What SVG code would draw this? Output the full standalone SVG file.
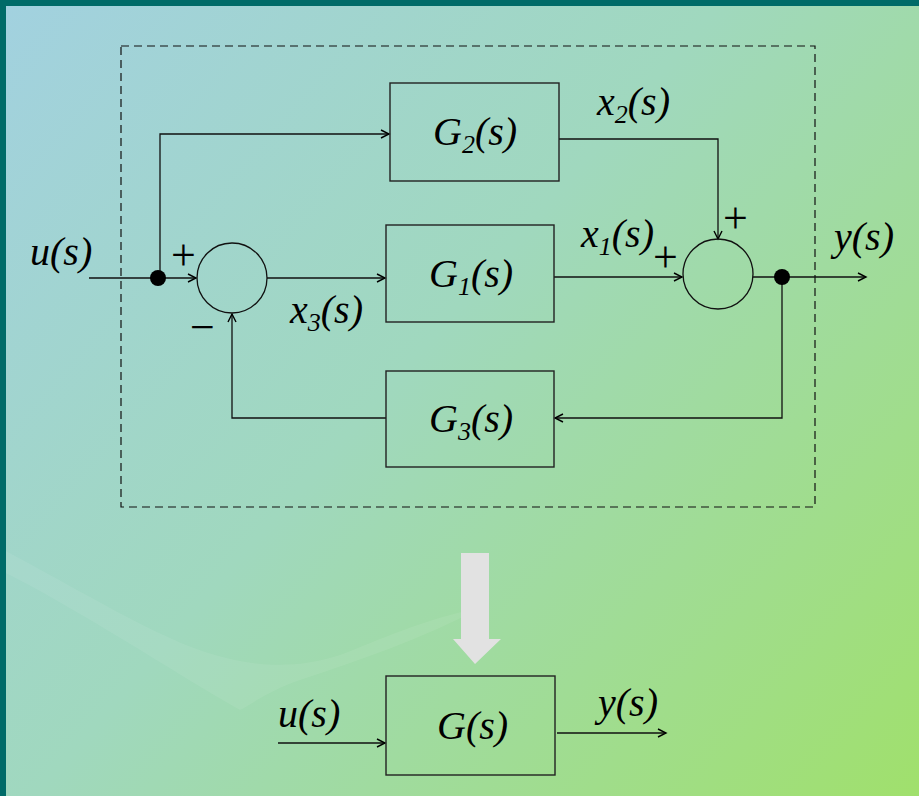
<svg xmlns="http://www.w3.org/2000/svg" width="919" height="796" viewBox="0 0 919 796">
<defs>
<linearGradient id="bg" x1="0" y1="0" x2="919" y2="796" gradientUnits="userSpaceOnUse">
<stop offset="0" stop-color="#A2D1E0"/>
<stop offset="0.45" stop-color="#A0D8BE"/>
<stop offset="1" stop-color="#A0E06C"/>
</linearGradient>
<marker id="arr" markerWidth="12" markerHeight="10" refX="9" refY="5" orient="auto" markerUnits="userSpaceOnUse">
<path d="M1,1 L9,5 L1,9" fill="none" stroke="#000" stroke-width="1.4"/>
</marker>
<style>
.ln{fill:none;stroke:#111;stroke-width:1.3}
.bx{fill:none;stroke:#222;stroke-width:1.4}
text.t{font-family:'Liberation Serif','Times New Roman',serif;font-style:italic;font-size:40px;fill:#000}
tspan.sub{font-size:26px}
text.pm{font-family:'Liberation Serif','Times New Roman',serif;font-size:44px;fill:#000}
</style>
</defs>
<rect x="0" y="0" width="919" height="796" fill="url(#bg)"/>
<path d="M0,548 C80,590 160,640 215,655 C260,668 300,668 340,655 C380,640 420,620 480,608 C420,640 360,660 300,680 C270,690 250,705 240,710 C170,670 80,610 0,570 Z" fill="#ffffff" opacity="0.07"/>
<rect x="0" y="0" width="919" height="6" fill="#006B68"/>
<rect x="0" y="0" width="6" height="796" fill="#006B68"/>

<rect x="121" y="46" width="694" height="461" fill="none" stroke="#111" stroke-width="1.2" stroke-dasharray="8,5"/>

<g id="connectors">
<line class="ln" x1="89" y1="278" x2="196" y2="278" marker-end="url(#arr)"/>
<polyline class="ln" points="160,278 160,134 389,134" marker-end="url(#arr)"/>
<line class="ln" x1="267" y1="278" x2="385" y2="278" marker-end="url(#arr)"/>
<line class="ln" x1="554" y1="277" x2="682" y2="277" marker-end="url(#arr)"/>
<polyline class="ln" points="559,139 718,139 718,239" marker-end="url(#arr)"/>
<line class="ln" x1="753" y1="277" x2="866" y2="277" marker-end="url(#arr)"/>
<polyline class="ln" points="782,277 782,418 555,418" marker-end="url(#arr)"/>
<polyline class="ln" points="386,418 232,418 232,314" marker-end="url(#arr)"/>
<line class="ln" x1="278" y1="743" x2="385" y2="743" marker-end="url(#arr)"/>
<line class="ln" x1="557" y1="733" x2="666" y2="733" marker-end="url(#arr)"/>
</g>

<g id="input-u">
<text class="t" x="30" y="265">u(s)</text>
</g>
<g id="branch-left">
<circle cx="158" cy="278" r="8" fill="#000"/>
</g>
<g id="sum-left">
<circle cx="232" cy="278" r="35" class="ln"/>
<text class="pm" x="171" y="270">+</text>
<text class="pm" x="190" y="342">−</text>
</g>
<g id="G1">
<rect class="bx" x="386" y="225" width="168" height="97"/>
<text class="t" x="429" y="287">G<tspan class="sub" dy="8">1</tspan><tspan dy="-8">(s)</tspan></text>
</g>
<g id="G2">
<rect class="bx" x="390" y="83" width="169" height="98"/>
<text class="t" x="433" y="145">G<tspan class="sub" dy="8">2</tspan><tspan dy="-8">(s)</tspan></text>
</g>
<g id="G3">
<rect class="bx" x="386" y="371" width="168" height="96"/>
<text class="t" x="429" y="432">G<tspan class="sub" dy="8">3</tspan><tspan dy="-8">(s)</tspan></text>
</g>
<g id="sum-right">
<circle cx="718" cy="274" r="35" class="ln"/>
<text class="pm" x="653" y="272">+</text>
<text class="pm" x="723" y="233">+</text>
</g>
<g id="branch-right">
<circle cx="782" cy="277" r="8" fill="#000"/>
</g>
<g id="labels">
<text class="t" x="290" y="323">x<tspan class="sub" dy="8">3</tspan><tspan dy="-8">(s)</tspan></text>
<text class="t" x="581" y="247">x<tspan class="sub" dy="8">1</tspan><tspan dy="-8">(s)</tspan></text>
<text class="t" x="597" y="115">x<tspan class="sub" dy="8">2</tspan><tspan dy="-8">(s)</tspan></text>
<text class="t" x="834" y="250">y(s)</text>
</g>
<g id="big-arrow">
<polygon points="461,553 489,553 489,639 501,639 475,664 453,639 461,639" fill="#E2E2E2"/>
</g>
<g id="G">
<rect class="bx" x="386" y="676" width="169" height="99"/>
<text class="t" x="437" y="739">G(s)</text>
<text class="t" x="278" y="727">u(s)</text>
<text class="t" x="598" y="716">y(s)</text>
</g>
</svg>
